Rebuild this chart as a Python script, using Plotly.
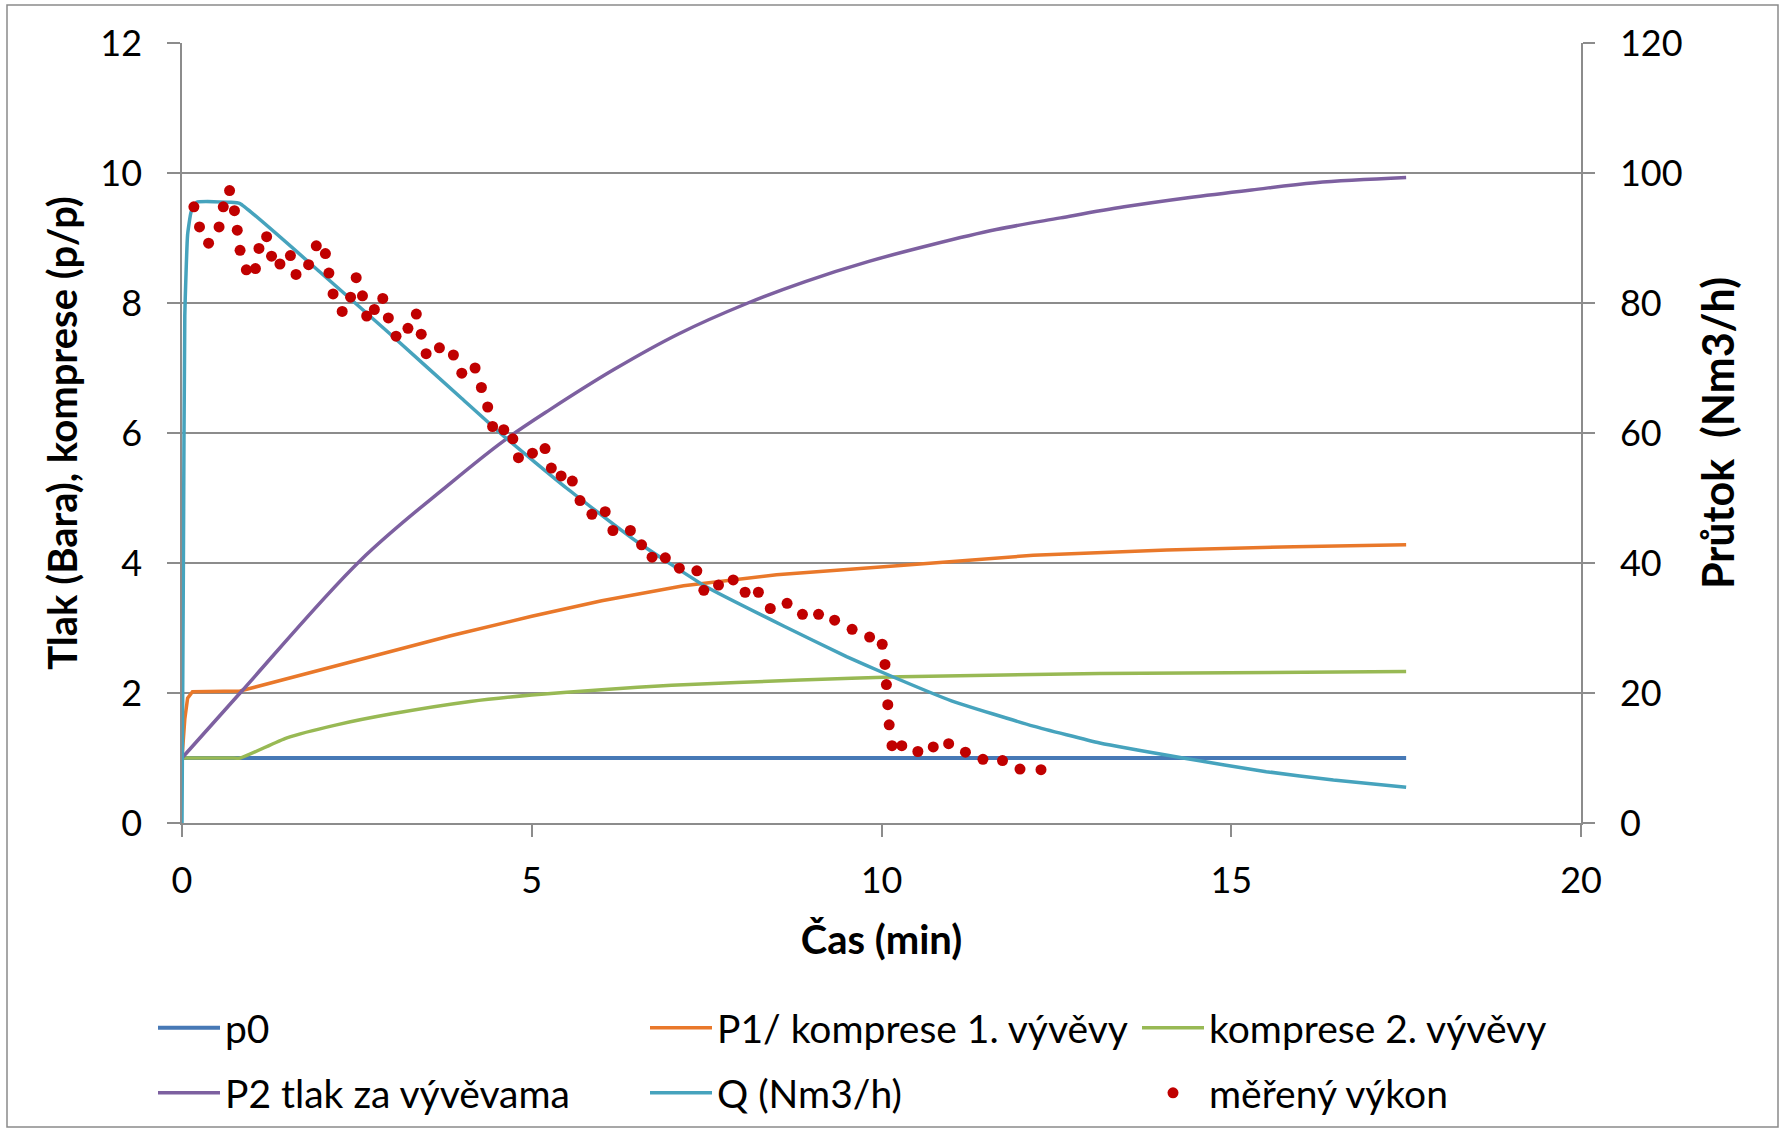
import plotly.graph_objects as go

# ---- data ----
t_p0 = [0, 17.5]
p0 = [1.0, 1.0]

t_p1 = [0, 0.04, 0.08, 0.15, 0.83, 2.0, 3.07, 3.84, 5.0, 6.0, 7.17, 8.5, 10.27, 12.17, 14.08, 15.9, 17.5]
p1 = [1.0, 1.6, 1.92, 2.02, 2.03, 2.36, 2.65, 2.88, 3.18, 3.42, 3.65, 3.82, 3.96, 4.12, 4.20, 4.25, 4.28]

t_k2 = [0, 0.7, 0.83, 1.5, 2.21, 3.0, 4.12, 5.0, 6.0, 7.0, 8.84, 10.27, 13.12, 17.5]
k2 = [1.0, 1.0, 1.0, 1.31, 1.51, 1.68, 1.87, 1.97, 2.05, 2.12, 2.20, 2.25, 2.30, 2.33]

t_p2 = [0, 0.83, 2.55, 3.84, 4.6, 5.26, 6.18, 7.09, 8.09, 8.91, 9.82, 10.73, 11.64, 12.56, 13.47, 14.38, 15.29, 16.2, 17.5]
p2 = [1.0, 2.0, 4.04, 5.23, 5.88, 6.36, 6.98, 7.52, 8.0, 8.33, 8.64, 8.90, 9.13, 9.31, 9.48, 9.62, 9.74, 9.85, 9.93]

t_q = [0, 0.02, 0.04, 0.08, 0.13, 0.21, 0.7, 0.83, 2.0, 3.0, 4.0, 4.6, 5.5, 6.5, 7.5, 8.6, 9.5, 10.05, 11.0, 12.17, 13.12, 14.31, 15.5, 16.46, 17.5]
q = [0, 40, 78, 90.5, 94, 95.5, 95.5, 95.3, 84.5, 75.0, 65.3, 59.5, 51.5, 43.3, 36.3, 30.3, 25.6, 23.0, 18.8, 14.9, 12.3, 10.0, 7.9, 6.6, 5.5]

t_meas = [0.17, 0.25, 0.38, 0.53, 0.59, 0.68, 0.75, 0.79, 0.83, 0.92, 1.05, 1.10, 1.21, 1.28, 1.40,
          1.55, 1.63, 1.81, 1.92, 2.05, 2.10, 2.16, 2.29, 2.41, 2.49, 2.58, 2.64, 2.75, 2.87, 2.95,
          3.06, 3.23, 3.35, 3.42, 3.49, 3.68, 3.88, 4.00, 4.19, 4.28, 4.37, 4.44, 4.60, 4.73, 4.81,
          5.01, 5.19, 5.28, 5.42, 5.58, 5.69, 5.86, 6.05, 6.16, 6.41, 6.57, 6.72, 6.91, 7.11, 7.36,
          7.46, 7.67, 7.88, 8.05, 8.24, 8.41, 8.65, 8.87, 9.10, 9.33, 9.58, 9.83, 10.01, 10.05, 10.07,
          10.09, 10.11, 10.15, 10.29, 10.52, 10.74, 10.96, 11.20, 11.45, 11.73, 11.98, 12.28]
q_meas = [94.8, 91.7, 89.2, 91.7, 94.8, 97.3, 94.2, 91.2, 88.1, 85.1, 85.3, 88.4, 90.2, 87.2, 86.0,
          87.3, 84.4, 85.9, 88.8, 87.6, 84.6, 81.4, 78.7, 80.9, 83.9, 81.1, 78.0, 79.0, 80.7, 77.7,
          74.9, 76.1, 78.3, 75.2, 72.2, 73.1, 72.0, 69.2, 70.0, 67.0, 64.0, 61.0, 60.5, 59.1, 56.2,
          56.9, 57.6, 54.6, 53.4, 52.6, 49.6, 47.5, 47.9, 45.0, 45.0, 42.8, 40.9, 40.8, 39.2, 38.8,
          35.8, 36.6, 37.4, 35.5, 35.5, 33.0, 33.8, 32.1, 32.1, 31.2, 29.8, 28.6, 27.5, 24.4, 21.3,
          18.2, 15.1, 11.9, 11.9, 11.0, 11.7, 12.2, 10.9, 9.8, 9.6, 8.3, 8.2]

x_ticks = [0, 5, 10, 15, 20]
y1_ticks = [0, 2, 4, 6, 8, 10, 12]
y2_ticks = [0, 20, 40, 60, 80, 100, 120]

# ---- figure ----
FONT = "Lato"
GRID = "#8c8c8c"
LW = 3.5

fig = go.Figure()
fig.add_trace(go.Scatter(x=t_p0, y=p0, mode="lines", name="p0",
                         line=dict(color="#4779B6", width=LW + 0.5), legend="legend"))
fig.add_trace(go.Scatter(x=t_p1, y=p1, mode="lines", name="P1/ komprese 1. vývěvy",
                         line=dict(color="#E9782A", width=LW), legend="legend"))
fig.add_trace(go.Scatter(x=t_k2, y=k2, mode="lines", name="komprese 2. vývěvy",
                         line=dict(color="#98B954", width=LW, shape="spline", smoothing=0.6),
                         legend="legend"))
fig.add_trace(go.Scatter(x=t_p2, y=p2, mode="lines", name="P2 tlak za vývěvama",
                         line=dict(color="#7D60A0", width=LW, shape="spline", smoothing=1.0),
                         legend="legend2"))
fig.add_trace(go.Scatter(x=t_q, y=q, mode="lines", name="Q (Nm3/h)", yaxis="y2",
                         line=dict(color="#46A3BD", width=LW, shape="spline", smoothing=0.4),
                         legend="legend2"))
fig.add_trace(go.Scatter(x=t_meas, y=q_meas, mode="markers", name="měřený výkon", yaxis="y2",
                         marker=dict(color="#C00000", size=11), legend="legend2"))

W, H = 1785, 1133
ML, MR, MT, MB = 182, 204, 43, 310
pw, ph = W - ML - MR, H - MT - MB


def px_x(px):
    return (px - ML) / pw


def px_y(py):
    return (H - MB - py) / ph


legend_common = dict(orientation="h", xanchor="left", yanchor="middle",
                     font=dict(family=FONT, size=39, color="#000"),
                     entrywidth=415, entrywidthmode="pixels",
                     bgcolor="rgba(0,0,0,0)", itemwidth=62, traceorder="normal")

fig.update_layout(
    width=W, height=H,
    margin=dict(l=ML, r=MR, t=MT, b=MB, autoexpand=False),
    paper_bgcolor="white", plot_bgcolor="white",
    font=dict(family=FONT, size=36, color="#000"),
    xaxis=dict(range=[0, 20], tickvals=x_ticks, showgrid=False, zeroline=False,
               showline=True, linecolor=GRID, linewidth=1.5,
               ticks="outside", ticklen=12, tickcolor=GRID, tickwidth=1.5,
               ticklabelstandoff=13,
               tickfont=dict(family=FONT, size=36),
               title=dict(text="<b>Čas (min)</b>", font=dict(family=FONT, size=40), standoff=26)),
    yaxis=dict(range=[0, 12], tickvals=y1_ticks, showgrid=True, gridcolor=GRID, gridwidth=1.5,
               zeroline=False, showline=True, linecolor=GRID, linewidth=1.5,
               ticks="outside", ticklen=13, tickcolor=GRID, tickwidth=1.5,
               ticklabelstandoff=18,
               tickfont=dict(family=FONT, size=36),
               title=dict(text="<b>Tlak (Bara), komprese (p/p)</b>", font=dict(family=FONT, size=40),
                          standoff=10)),
    yaxis2=dict(range=[0, 120], tickvals=y2_ticks, overlaying="y", side="right",
                showgrid=False, zeroline=False, showline=True, linecolor=GRID, linewidth=1.5,
                ticks="outside", ticklen=12, tickcolor=GRID, tickwidth=1.5,
                ticklabelstandoff=18,
                tickfont=dict(family=FONT, size=36),
                title=dict(text="<b>Průtok  (Nm3/h)</b>", font=dict(family=FONT, size=43),
                           standoff=22)),
    legend=dict(x=px_x(153), y=px_y(1028), **legend_common),
    legend2=dict(x=px_x(153), y=px_y(1093), **legend_common),
    shapes=[dict(type="rect", xref="paper", yref="paper",
                 x0=px_x(7), x1=px_x(1778), y0=px_y(1127), y1=px_y(5),
                 line=dict(color="#8a8a8a", width=1.5), fillcolor="rgba(0,0,0,0)", layer="below")],
    showlegend=True,
)

fig.write_html("out.html")
